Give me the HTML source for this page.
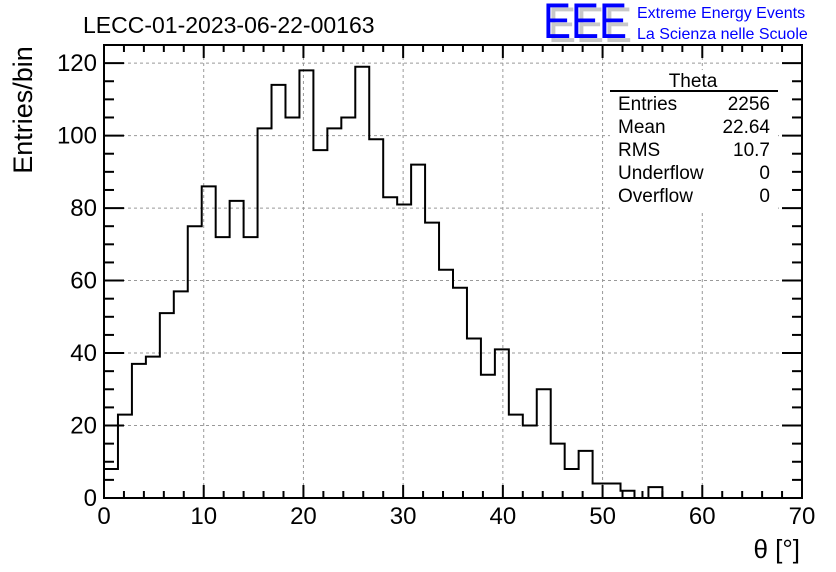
<!DOCTYPE html>
<html><head><meta charset="utf-8"><style>
body{margin:0;background:#fff;}
svg{display:block;font-family:"Liberation Sans",Arial,sans-serif;}
</style></head><body>
<svg id="c" width="836" height="572" viewBox="0 0 836 572">
<text x="83" y="33" font-size="23">LECC-01-2023-06-22-00163</text>
<g>
<text x="548" y="42" font-size="50" fill="#c8c8c8" textLength="84" lengthAdjust="spacingAndGlyphs">EEE</text>
<text x="543" y="38" font-size="50" fill="#0000ff" textLength="84" lengthAdjust="spacingAndGlyphs">EEE</text>
<text x="637" y="18" font-size="16" fill="#0000ff">Extreme Energy Events</text>
<text x="637" y="39" font-size="16" fill="#0000ff">La Scienza nelle Scuole</text>
</g>
<g id="grid"></g>
<g id="axes"></g>
<path id="hist" fill="none" stroke="#000" stroke-width="2"/>
<rect x="104" y="45" width="698" height="453" fill="none" stroke="#000" stroke-width="2"/>
<text transform="translate(32,110) rotate(-90)" text-anchor="middle" font-size="27">Entries/bin</text>
<text x="800" y="558" text-anchor="end" font-size="26">θ [°]</text>
<g font-size="19">
<rect x="610" y="70" width="168" height="140" fill="#fff"/>
<text x="693" y="87" text-anchor="middle">Theta</text>
<line x1="610" y1="91" x2="778" y2="91" stroke="#000" stroke-width="2"/>
<text x="618" y="110">Entries</text><text x="770" y="110" text-anchor="end">2256</text>
<text x="618" y="133">Mean</text><text x="770" y="133" text-anchor="end">22.64</text>
<text x="618" y="156">RMS</text><text x="770" y="156" text-anchor="end">10.7</text>
<text x="618" y="179">Underflow</text><text x="770" y="179" text-anchor="end">0</text>
<text x="618" y="202">Overflow</text><text x="770" y="202" text-anchor="end">0</text>
</g>
</svg>
<script>
const counts=[8,23,37,39,51,57,75,86,72,82,72,102,114,105,118,96,102,105,119,99,83,81,92,76,63,58,44,34,41,23,20,30,15,8,13,4,4,2,0,3,0,0,0,0,0,0,0,0,0,0];
const binWidth=[1.4];
const xTicks=[0,10,20,30,40,50,60,70];
const yTicks=[0,20,40,60,80,100,120];
const NS="http://www.w3.org/2000/svg";
const X0=104,X1=802,Y0=498,Y1=45;
const xs=v=>X0+(v/70)*(X1-X0);
const ys=v=>Y0-(v/125)*(Y0-Y1);
const grid=document.getElementById('grid'),axes=document.getElementById('axes');
function mk(p,tag,attrs){const e=document.createElementNS(NS,tag);for(const k in attrs)e.setAttribute(k,attrs[k]);p.appendChild(e);return e;}
xTicks.forEach(t=>{
 const x=xs(t);
 if(t>0&&t<70){const g=mk(grid,'line',{x1:x,x2:x,y1:Y1,y2:Y0,stroke:'#999','stroke-dasharray':'3,3'});
 
 }
 const tx=mk(axes,'text',{x:x,y:524,'text-anchor':'middle','font-size':'24'});tx.textContent=t;
 
 
});
for(let v=0;v<=70;v+=2){const x=xs(v),L=(v%10===0)?13:7;
 mk(axes,'line',{x1:x,x2:x,y1:Y0,y2:Y0-L,stroke:'#000','stroke-width':2});
 mk(axes,'line',{x1:x,x2:x,y1:Y1,y2:Y1+L,stroke:'#000','stroke-width':2});}
yTicks.forEach(t=>{
 const y=ys(t);
 if(t>0){const g=mk(grid,'line',{x1:X0,x2:X1,y1:y,y2:y,stroke:'#999','stroke-dasharray':'3,3'});
 
 }
 const tx=mk(axes,'text',{x:97,y:y+8,'text-anchor':'end','font-size':'24'});tx.textContent=t;
 
 
});
for(let v=0;v<=125;v+=5){const y=ys(v),L=(v%20===0)?20:10;
 mk(axes,'line',{x1:X0,x2:X0+L,y1:y,y2:y,stroke:'#000','stroke-width':2});
 mk(axes,'line',{x1:X1,x2:X1-L,y1:y,y2:y,stroke:'#000','stroke-width':2});}
let d='M'+xs(0)+','+ys(0);
counts.forEach((c,i)=>{const a=xs(i*binWidth[0]),b=xs((i+1)*binWidth[0]);d+=' L'+a+','+ys(c)+' L'+b+','+ys(c);});
d+=' L'+xs(70)+','+ys(0);
document.getElementById('hist').setAttribute('d',d);
</script>
</body></html>
